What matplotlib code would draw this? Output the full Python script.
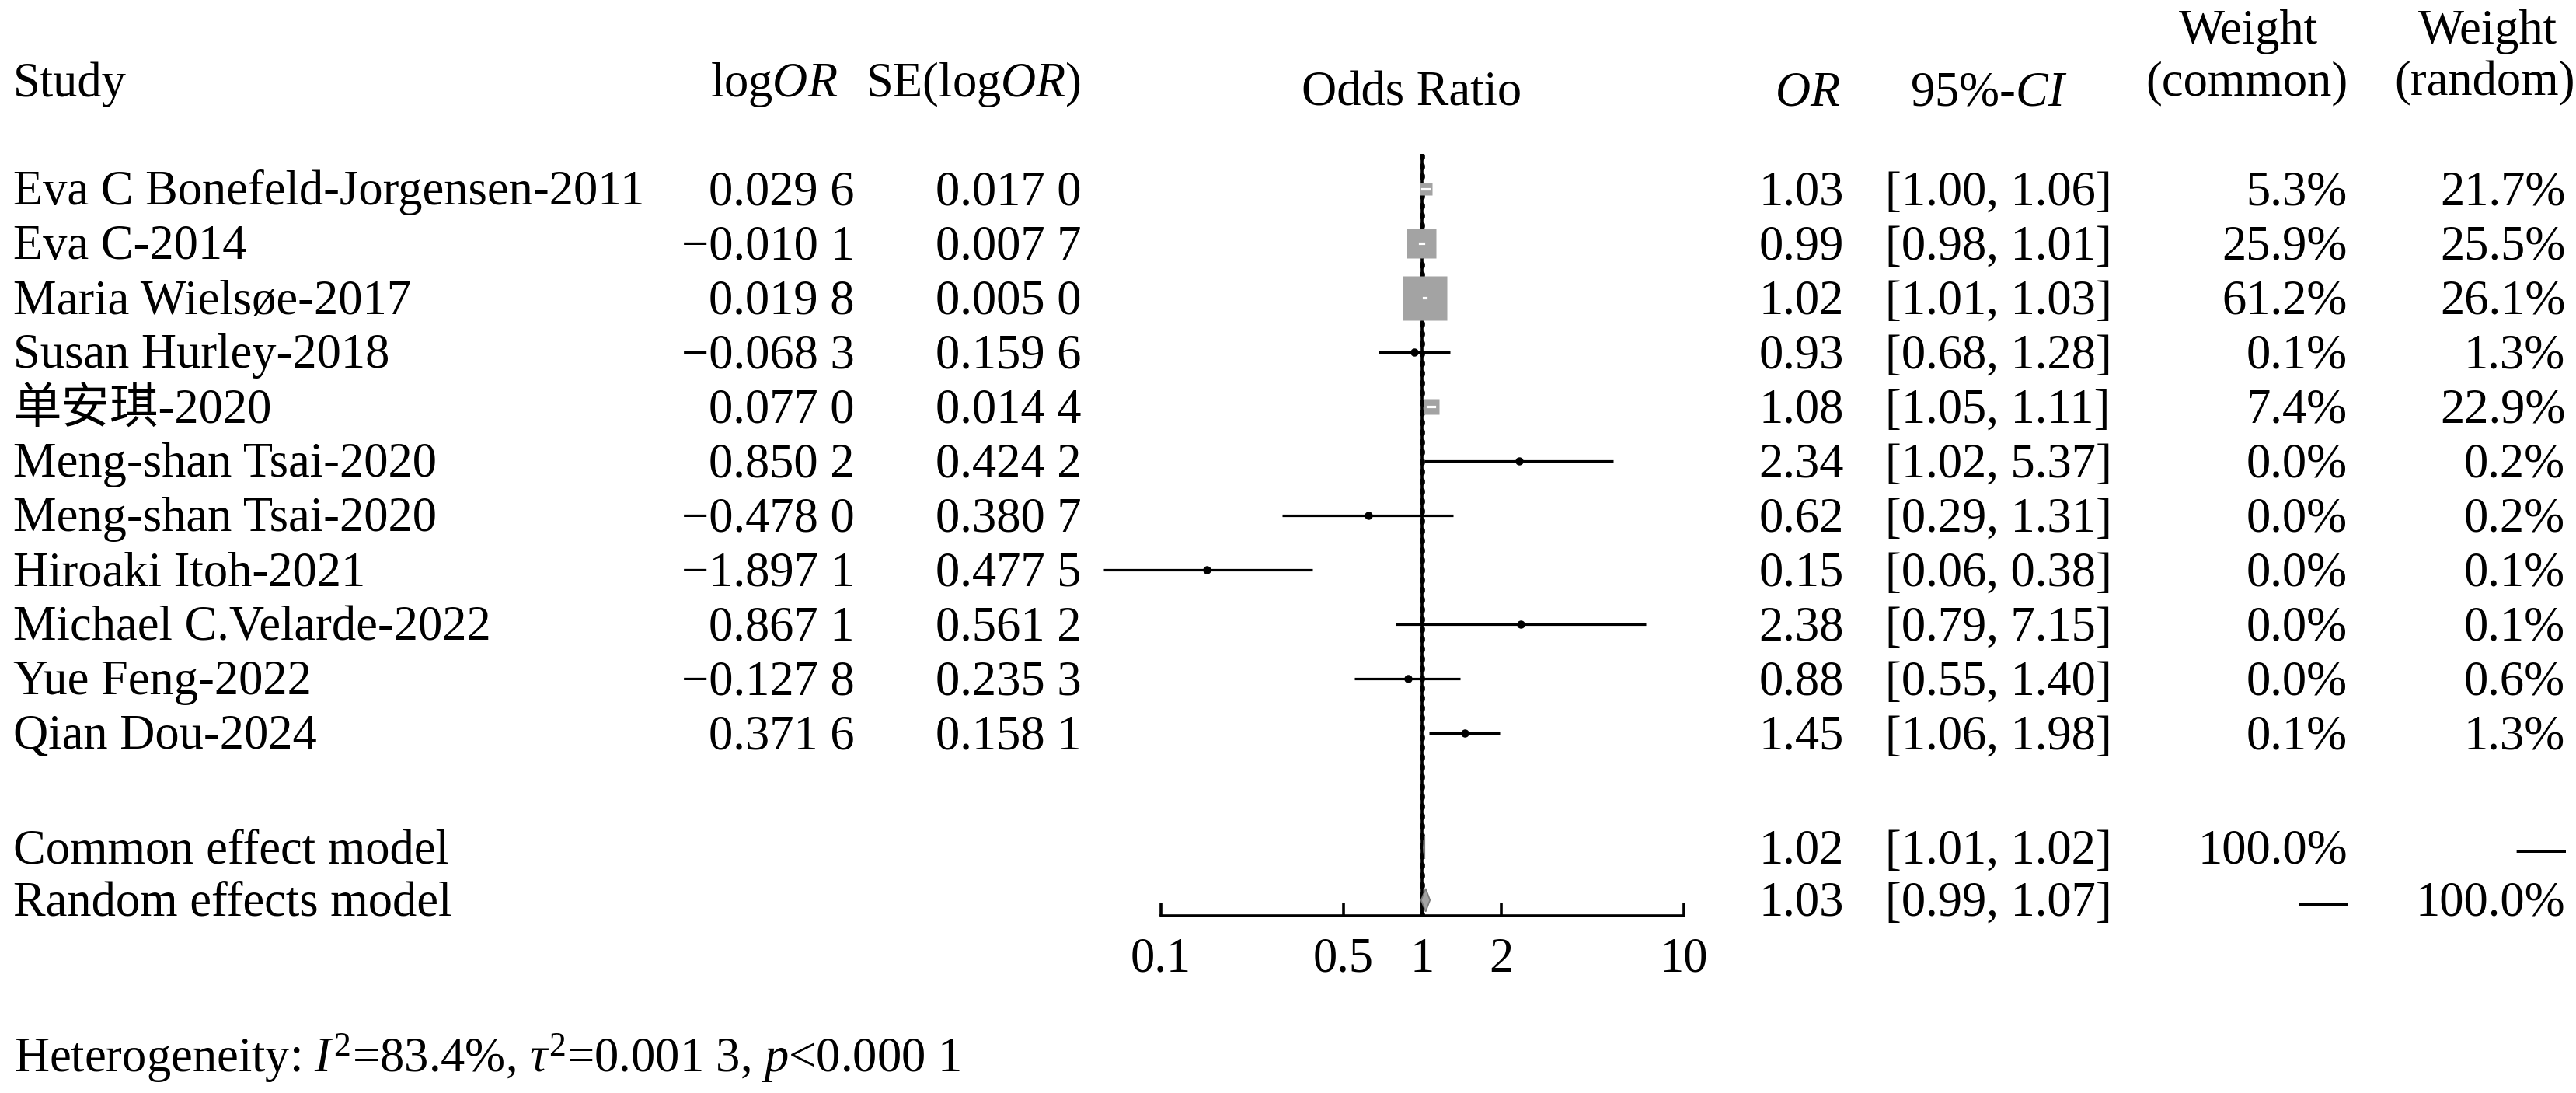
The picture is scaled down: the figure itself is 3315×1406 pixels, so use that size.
import numpy as np
import matplotlib
matplotlib.use("Agg")
import matplotlib.pyplot as plt
from matplotlib.patches import Polygon

plt.rcParams['font.family'] = ['Liberation Serif', 'Noto Sans CJK SC']
plt.rcParams['mathtext.fontset'] = 'custom'
plt.rcParams['mathtext.rm'] = 'Liberation Serif'
plt.rcParams['mathtext.it'] = 'Liberation Serif:italic'
plt.rcParams['mathtext.bf'] = 'Liberation Serif:bold'
plt.rcParams['font.size'] = 45

studies = ["Eva C Bonefeld-Jorgensen-2011", "Eva C-2014", "Maria Wielsøe-2017",
           "Susan Hurley-2018", "单安琪-2020", "Meng-shan Tsai-2020",
           "Meng-shan Tsai-2020", "Hiroaki Itoh-2021", "Michael C.Velarde-2022",
           "Yue Feng-2022", "Qian Dou-2024"]
log_or = [0.0296, -0.0101, 0.0198, -0.0683, 0.0770, 0.8502, -0.4780, -1.8971, 0.8671, -0.1278, 0.3716]
se_log_or = [0.0170, 0.0077, 0.0050, 0.1596, 0.0144, 0.4242, 0.3807, 0.4775, 0.5612, 0.2353, 0.1581]
odds = [1.03, 0.99, 1.02, 0.93, 1.08, 2.34, 0.62, 0.15, 2.38, 0.88, 1.45]
ci_low = [1.00, 0.98, 1.01, 0.68, 1.05, 1.02, 0.29, 0.06, 0.79, 0.55, 1.06]
ci_high = [1.06, 1.01, 1.03, 1.28, 1.11, 5.37, 1.31, 0.38, 7.15, 1.40, 1.98]
w_common = [5.3, 25.9, 61.2, 0.1, 7.4, 0.0, 0.0, 0.0, 0.0, 0.0, 0.1]
w_random = [21.7, 25.5, 26.1, 1.3, 22.9, 0.2, 0.2, 0.1, 0.1, 0.6, 1.3]

pooled_labels = ["Common effect model", "Random effects model"]
pooled_or = [1.02, 1.03]
pooled_low = [1.01, 0.99]
pooled_high = [1.02, 1.07]
pooled_wc = ["100.0%", "\u2014"]
pooled_wr = ["\u2014", "100.0%"]

ticks = [0.1, 0.5, 1, 2, 10]
het_text = r"Heterogeneity: $I^2$=83.4%, $\tau^2$=0.001 3, $p$<0.000 1"


def fmt4(v):
    s = "%.4f" % abs(v)
    s = s[:-1] + " " + s[-1]
    return ("\u2212" + s) if v < 0 else s


# layout in units of a 1568 px wide canvas
W = 1568.0
S = 3316.0 / W
H = 1406.0 / S
base0 = 124.5
step = 33.1
off = 9.5
pooled_base = [525.0, 557.0]

fig = plt.figure(figsize=(33.16, 14.06), dpi=100)
ax = fig.add_axes([0, 0, 1, 1])
ax.set_xlim(0, W)
ax.set_ylim(H, 0)
ax.axis('off')

x0, x1 = 706.5, 1024.5
ytop, ybot = 93.7, 557.0
axf = fig.add_axes([x0 / W, 1 - ybot / H, (x1 - x0) / W, (ybot - ytop) / H])
axf.set_xscale('log')
axf.set_xlim(0.1, 10)
axf.set_ylim(ybot, ytop)
axf.patch.set_visible(False)
for sp in ['top', 'left', 'right']:
    axf.spines[sp].set_visible(False)
axf.spines['bottom'].set_linewidth(2.6)
axf.set_yticks([])
axf.set_xticks(ticks)
axf.set_xticklabels([("%g" % t) for t in ticks])
axf.minorticks_off()
axf.tick_params(axis='x', direction='in', length=12, width=2.6, pad=20, labelsize=45)

# headers
ax.text(8, 58.5, "Study", ha='left', va='baseline')
ax.text(510, 58.5, r"log$OR$", ha='right', va='baseline')
ax.text(658, 58.5, r"SE(log$OR$)", ha='right', va='baseline')
ax.text(859, 64, "Odds Ratio", ha='center', va='baseline')
ax.text(1120, 64, r"$OR$", ha='right', va='baseline')
ax.text(1210, 64, r"95%-$CI$", ha='center', va='baseline')
ax.text(1368, 26.5, "Weight", ha='center', va='baseline')
ax.text(1367, 57.7, "(common)", ha='center', va='baseline')
ax.text(1514, 26.5, "Weight", ha='center', va='baseline')
ax.text(1512, 57.7, "(random)", ha='center', va='baseline')

# reference line at OR = 1
axf.axvline(1, color='black', lw=2.6, zorder=1)
axf.axvline(1, color='black', lw=4.8, ls=(0, (0.4, 1.5)), dash_capstyle='round', zorder=1)

px_per_decade = (x1 - x0) * S / 2.0
big_side = 57.0

for i, name in enumerate(studies):
    yb = base0 + step * i
    yc = yb - off
    ax.text(8, yb, name, ha='left', va='baseline')
    ax.text(520, yb, fmt4(log_or[i]), ha='right', va='baseline')
    ax.text(658, yb, fmt4(se_log_or[i]), ha='right', va='baseline')
    ax.text(1122, yb, "%.2f" % odds[i], ha='right', va='baseline')
    ax.text(1147, yb, "[%.2f, %.2f]" % (ci_low[i], ci_high[i]), ha='left', va='baseline')
    ax.text(1428.5, yb, "%.1f%%" % w_common[i], ha='right', va='baseline')
    ax.text(1561, yb, "%.1f%%" % w_random[i], ha='right', va='baseline')

    axf.plot([ci_low[i], ci_high[i]], [yc, yc], color='black', lw=2.3,
             solid_capstyle='butt', clip_on=False, zorder=2)
    side_px = big_side * np.sqrt(w_common[i] / 61.2)
    if side_px > 8:
        axf.plot(odds[i], yc, marker='s', ms=side_px * 0.72, color='#a3a3a3',
                 mec='none', zorder=3, clip_on=False)
        f = 10 ** ((side_px / 2.0) / px_per_decade)
        lo_in = max(ci_low[i], odds[i] / f)
        hi_in = min(ci_high[i], odds[i] * f)
        axf.plot([lo_in, hi_in], [yc, yc], color='white', lw=2.3, zorder=4)
    else:
        axf.plot(odds[i], yc, marker='o', ms=6.5, color='black', zorder=4, clip_on=False)

for j, lab in enumerate(pooled_labels):
    yb = pooled_base[j]
    yc = yb - off
    ax.text(8, yb, lab, ha='left', va='baseline')
    ax.text(1122, yb, "%.2f" % pooled_or[j], ha='right', va='baseline')
    ax.text(1147, yb, "[%.2f, %.2f]" % (pooled_low[j], pooled_high[j]), ha='left', va='baseline')
    ax.text(1428.5, yb, pooled_wc[j], ha='right', va='baseline')
    ax.text(1561, yb, pooled_wr[j], ha='right', va='baseline')
    dh = 7.0
    diamond = Polygon([[pooled_low[j], yc], [pooled_or[j], yc - dh],
                       [pooled_high[j], yc], [pooled_or[j], yc + dh]],
                      closed=True, facecolor='#a3a3a3', edgecolor='#7a7a7a',
                      lw=1.2, zorder=5)
    axf.add_patch(diamond)

ax.text(8.5, 652, het_text, ha='left', va='baseline')

fig.savefig("out.png", dpi=100)
